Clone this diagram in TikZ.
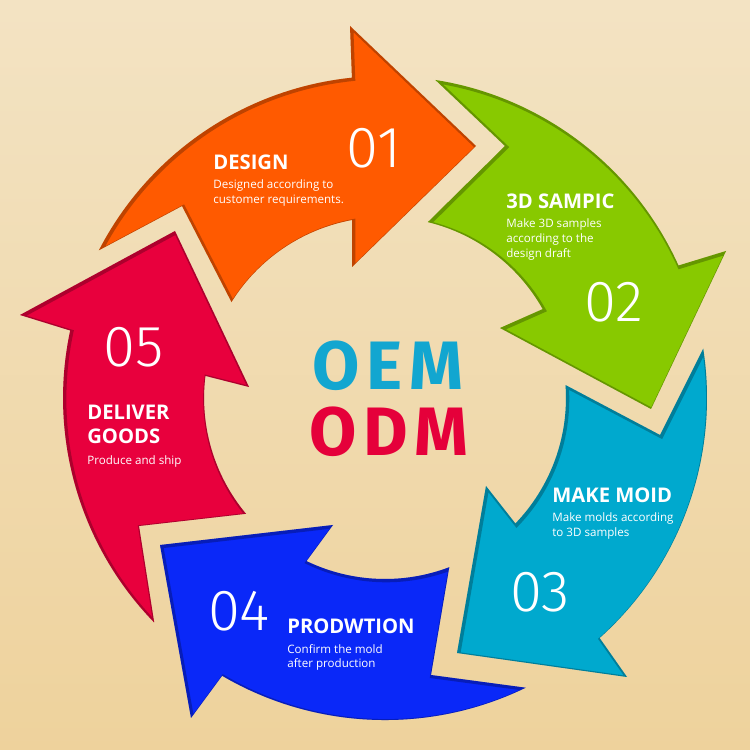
\documentclass[tikz,border=0pt]{standalone}
\usepackage{fontspec}
\setmainfont{Open Sans}
\newfontfamily\numfont{Fira Sans Light}
\newfontfamily\bigfont{Fira Sans}[LetterSpace=10]
\definecolor{bgtop}{HTML}{F3E3C3}
\definecolor{bgbot}{HTML}{EED29C}
\definecolor{corange}{HTML}{FF5A00}
\definecolor{cgreen}{HTML}{88C900}
\definecolor{ccyan}{HTML}{00A9CE}
\definecolor{cblue}{HTML}{0A28F8}
\definecolor{cred}{HTML}{E8003D}
\definecolor{oemc}{HTML}{12A6D0}
\definecolor{odmc}{HTML}{E5003A}
\def\pathA{(98.9,499.7) arc[start angle=152.7,end angle=95.9,radius=322] -- (350,724) -- (476,604) -- (352,483) -- (352.0,530.0) arc[start angle=100.5,end angle=148,radius=181] -- (182,544) -- cycle}
\def\pathB{(435.4,670.0) arc[start angle=81,end angle=24.3,radius=322] -- (726,499) -- (651,341) -- (500,422) -- (542.7,440.9) arc[start angle=29.4,end angle=76.3,radius=181] -- (505,604) -- cycle}
\def\pathC{(703.2,401.3) arc[start angle=8.8,end angle=-48.2,radius=322] -- (627,73) -- (457,97) -- (486,264) -- (515.4,226.5) arc[start angle=-43.9,end angle=4.1,radius=181] -- (660,315) -- cycle}
\def\pathD{(525.7,62.3) arc[start angle=-64.1,end angle=-120.4,radius=322] -- (191,32) -- (160,205) -- (333,225) -- (306.5,188.9) arc[start angle=-115.7,end angle=-69.2,radius=181] -- (431,75) -- cycle}
\def\pathE{(154.2,127.5) arc[start angle=224.2,end angle=167.9,radius=322] -- (20,435) -- (175,519) -- (249,363) -- (205.4,374.1) arc[start angle=173,end angle=219.8,radius=181] -- (139,224) -- cycle}
\tikzset{
  inshadow/.style={line width=2.4pt,black,opacity=.25,shift={(1.2,-1.2)}},
  num/.style={font=\numfont\fontsize{33}{33}\selectfont,text=white,anchor=base,inner sep=0pt},
  ttl/.style={font=\bfseries\fontsize{11.5}{12}\selectfont,text=white,anchor=base west,inner sep=0pt},
  dsc/.style={font=\fontsize{6.6}{8}\selectfont,text=white,anchor=base west,inner sep=0pt},
  big/.style={font=\bigfont\bfseries\fontsize{39}{39}\selectfont,inner sep=0pt,anchor=center}
}
\begin{document}
\begin{tikzpicture}[x=0.02cm,y=0.02cm]
\useasboundingbox (0,0) rectangle (750,750);
\shade[top color=bgtop,bottom color=bgbot] (0,0) rectangle (750,750);
% arrows
\fill[corange] \pathA;
\begin{scope}\clip \pathA; \draw[inshadow] \pathA; \end{scope}
\fill[cgreen] \pathB;
\begin{scope}\clip \pathB; \draw[inshadow] \pathB; \end{scope}
\fill[ccyan] \pathC;
\begin{scope}\clip \pathC; \draw[inshadow] \pathC; \end{scope}
\fill[cblue] \pathD;
\begin{scope}\clip \pathD; \draw[inshadow] \pathD; \end{scope}
\fill[cred] \pathE;
\begin{scope}\clip \pathE; \draw[inshadow] \pathE; \end{scope}
% texts 01
\node[num] (n1) at (374,582) {01};
\node[ttl] (t1) at (213,580) {DESIGN};
\node[dsc] (d1a) at (213,561) {Designed according to};
\node[dsc] (d1b) at (213,546) {customer requirements.};
% 02
\node[ttl] (t2) at (506,541) {3D SAMPIC};
\node[dsc] (d2a) at (506,522) {Make 3D samples};
\node[dsc] (d2b) at (506,507) {according to the};
\node[dsc] (d2c) at (506,492) {design draft};
\node[num] (n2) at (614,428) {02};
% 03
\node[ttl] (t3) at (552,247) {MAKE MOID};
\node[dsc] (d3a) at (552,228) {Make molds according};
\node[dsc] (d3b) at (552,213) {to 3D samples};
\node[num] (n3) at (540,138) {03};
% 04
\node[num] (n4) at (239,119) {04};
\node[ttl] (t4) at (287,116) {PRODWTION};
\node[dsc] (d4a) at (287,96) {Confirm the mold};
\node[dsc] (d4b) at (287,82) {after production};
% 05
\node[num] (n5) at (134,383) {05};
\node[ttl] (t5a) at (87,330) {DELIVER};
\node[ttl] (t5b) at (87,306) {GOODS};
\node[dsc] (d5) at (87,285) {Produce and ship};
% center
\node[big,text=oemc] (oem) at (388,384) {OEM};
\node[big,text=odmc] (odm) at (389,318) {ODM};
\end{tikzpicture}
\end{document}
